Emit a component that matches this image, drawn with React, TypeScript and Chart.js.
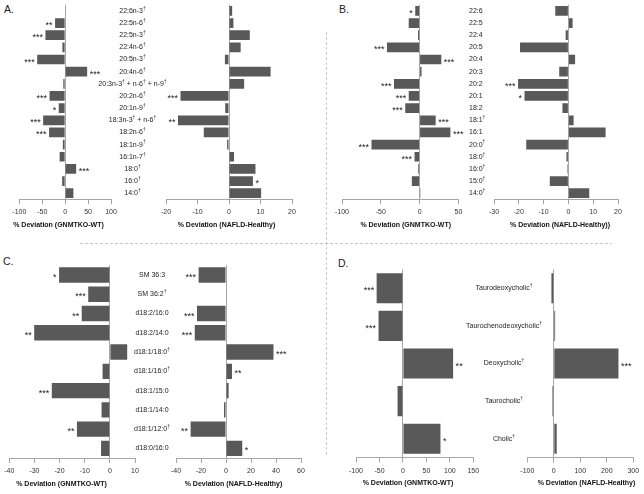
import { useEffect, useRef } from "react";
import { Chart, registerables } from "chart.js";
Chart.register(...registerables);

const FONT = '"Liberation Sans", Arial, sans-serif';
const W = 644;
const H = 494;
const BAR = "#595959";
const AXIS = "#a6a6a6";

// ---------- Panel A : fatty acids ----------
const catsA = ["22:6n-3†", "22:5n-6†", "22:5n-3†", "22:4n-6†", "20:5n-3†", "20:4n-6†", "20:3n-3† + n-6† + n-9†", "20:2n-6†", "20:1n-9†", "18:3n-3† + n-6†", "18:2n-6†", "18:1n-9†", "16:1n-7†", "18:0†", "16:0†", "14:0†"];
const valsA_KO = [0, -22, -43, -6, -61, 48, -4, -34, -14, -48, -35, -5, -12, 24, -6.5, 18];
const starsA_KO = ["", "**", "***", "", "***", "***", "", "***", "*", "***", "***", "", "", "***", "", ""];
const valsA_NAFLD = [1.0, 1.4, 6.6, 3.7, -1.3, 13.2, 4.8, -15.4, -1.2, -16.2, -8.0, -0.6, 1.6, 8.4, 7.6, 10.2];
const starsA_NAFLD = ["", "", "", "", "", "", "", "***", "", "**", "", "", "", "", "*", ""];

// ---------- Panel B ----------
const catsB = ["22:6", "22:5", "22:4", "20:5", "20:4", "20:3", "20:2", "20:1", "18:2", "18:1†", "16:1", "20:0†", "18:0†", "16:0†", "15:0†", "14:0†"];
const valsB_KO = [-5.6, -14, -2, -42, 28, 2.5, -33, -14, -18.5, 20.7, 39.7, -62, -6.5, -1.7, -10, 1];
const starsB_KO = ["*", "", "", "***", "***", "", "***", "***", "***", "***", "***", "***", "***", "", "", ""];
const valsB_NAFLD = [-5.3, 1.7, -1.1, -19.5, 2.7, -3.7, -20.3, -17.7, -2.4, 2.1, 15, -17, -0.8, -0.4, -7.5, 8.4];
const starsB_NAFLD = ["", "", "", "", "", "", "***", "*", "", "", "", "", "", "", "", ""];

// ---------- Panel C : sphingomyelins ----------
const catsC = ["SM 36:3", "SM 36:2†", "d18:2/16:0", "d18:2/14:0", "d18:1/18:0†", "d18:1/16:0†", "d18:1/15:0", "d18:1/14:0", "d18:1/12:0†", "d18:0/16:0"];
const valsC_KO = [-20.2, -8.6, -11.2, -30.1, 6.9, -2.9, -23.1, -3.3, -13.1, -3.5];
const starsC_KO = ["*", "***", "**", "**", "", "", "***", "", "**", ""];
const valsC_NAFLD = [-21.9, 0, -23.2, -25, 38, 4.8, 2.1, -1.6, -28.3, 13];
const starsC_NAFLD = ["***", "", "***", "***", "***", "**", "", "", "**", "*"];

// ---------- Panel D : bile acids ----------
const catsD = ["Taurodeoxycholic†", "Taurochenodeoxycholic†", "Deoxycholic†", "Taurocholic†", "Cholic†"];
const valsD_KO = [-56, -52, 107, -11.4, 80];
const starsD_KO = ["***", "***", "**", "", "*"];
const valsD_NAFLD = [-9, 5, 244, -5, 11];
const starsD_NAFLD = ["", "", "***", "", ""];

const titleKO = "% Deviation (GNMTKO-WT)";
const titleNAFLD = "% Deviation (NAFLD-Healthy)";
const titleNAFLD_B = "% Deviation (NAFLD-Healthy))";

type Spec = {
  labels: string[];
  values: number[];
  stars: string[];
  min: number;
  max: number;
  step: number;
  title: string;
  area: { left: number; right: number; top: number; bottom: number };
  titleX: number;
  cat?: { x: number; align: "center" | "left" };
};

const topRow = { top: 4.8, bottom: 199.3 };
const specs: Spec[] = [
  { labels: catsA, values: valsA_KO, stars: starsA_KO, min: -100, max: 100, step: 50, title: titleKO, area: { left: 19.3, right: 111, ...topRow }, titleX: 58.5, cat: { x: 132.5, align: "center" } },
  { labels: catsA, values: valsA_NAFLD, stars: starsA_NAFLD, min: -20, max: 20, step: 10, title: titleNAFLD, area: { left: 166, right: 292, ...topRow }, titleX: 226.5 },
  { labels: catsB, values: valsB_KO, stars: starsB_KO, min: -100, max: 50, step: 50, title: titleKO, area: { left: 342, right: 458.4, ...topRow }, titleX: 405.7, cat: { x: 469, align: "left" } },
  { labels: catsB, values: valsB_NAFLD, stars: starsB_NAFLD, min: -30, max: 20, step: 10, title: titleNAFLD_B, area: { left: 494, right: 618, ...topRow }, titleX: 560 },
  { labels: catsC, values: valsC_KO, stars: starsC_KO, min: -40, max: 10, step: 10, title: titleKO, area: { left: 9.3, right: 135, top: 265.4, bottom: 458 }, titleX: 61.5, cat: { x: 152, align: "center" } },
  { labels: catsC, values: valsC_NAFLD, stars: starsC_NAFLD, min: -40, max: 60, step: 20, title: titleNAFLD, area: { left: 176, right: 301, top: 265.4, bottom: 458 }, titleX: 233.5 },
  { labels: catsD, values: valsD_KO, stars: starsD_KO, min: -100, max: 150, step: 50, title: titleKO, area: { left: 356, right: 473.3, top: 269.5, bottom: 457.5 }, titleX: 408, cat: { x: 504, align: "center" } },
  { labels: catsD, values: valsD_NAFLD, stars: starsD_NAFLD, min: -100, max: 300, step: 100, title: titleNAFLD, area: { left: 527.3, right: 633.3, top: 269.5, bottom: 457.5 }, titleX: 586.5 },
];

const TICK_LEN = 5;
const TICK_PAD = 4;
const TICK_FONT = 7;
const AXIS_H = TICK_LEN + TICK_FONT * 1.2 + TICK_PAD * 2;

function drawDaggerText(ctx: CanvasRenderingContext2D, text: string, x: number, y: number, align: "center" | "left") {
  const parts = text.split("†");
  const mainFont = `7px ${FONT}`;
  const dagFont = `5px ${FONT}`;
  ctx.font = dagFont;
  const dw = ctx.measureText("†").width;
  ctx.font = mainFont;
  let total = 0;
  parts.forEach((p, i) => {
    total += ctx.measureText(p).width;
    if (i < parts.length - 1) total += dw;
  });
  let cx = align === "center" ? x - total / 2 : x;
  ctx.textAlign = "left";
  ctx.textBaseline = "middle";
  ctx.fillStyle = "#222";
  parts.forEach((p, i) => {
    ctx.font = mainFont;
    ctx.fillText(p, cx, y);
    cx += ctx.measureText(p).width;
    if (i < parts.length - 1) {
      ctx.font = dagFont;
      ctx.fillText("†", cx, y - 2.5);
      cx += dw;
    }
  });
}

function buildConfig(s: Spec): any {
  const plugin = {
    id: "annot",
    afterDatasetsDraw(chart: any) {
      const ctx = chart.ctx as CanvasRenderingContext2D;
      ctx.save();
      const meta = chart.getDatasetMeta(0);
      meta.data.forEach((bar: any, i: number) => {
        const st = s.stars[i];
        if (!st) return;
        ctx.font = `9px ${FONT}`;
        ctx.fillStyle = "#222";
        ctx.textBaseline = "alphabetic";
        if (s.values[i] < 0) {
          ctx.textAlign = "right";
          ctx.fillText(st, bar.x - 2.5, bar.y + 5);
        } else {
          ctx.textAlign = "left";
          ctx.fillText(st, bar.x + 2.5, bar.y + 5);
        }
      });
      // axis title
      ctx.font = `bold 7px ${FONT}`;
      ctx.fillStyle = "#111";
      ctx.textAlign = "center";
      ctx.textBaseline = "middle";
      ctx.fillText(s.title, s.titleX, chart.chartArea.bottom + 25.7);
      // category labels
      if (s.cat) {
        const yScale = chart.scales.y;
        s.labels.forEach((lab, i) => {
          drawDaggerText(ctx, lab, s.cat!.x, yScale.getPixelForValue(i), s.cat!.align);
        });
      }
      ctx.restore();
    },
  };
  return {
    type: "bar",
    data: {
      labels: s.labels,
      datasets: [
        {
          data: s.values,
          backgroundColor: BAR,
          borderWidth: 0,
          barPercentage: 0.8,
          categoryPercentage: 1,
        },
      ],
    },
    options: {
      indexAxis: "y",
      animation: false,
      responsive: false,
      devicePixelRatio: 1,
      layout: {
        padding: {
          left: s.area.left,
          right: W - s.area.right,
          top: s.area.top,
          bottom: H - s.area.bottom - AXIS_H,
        },
      },
      plugins: { legend: { display: false }, tooltip: { enabled: false } },
      scales: {
        y: { display: false, offset: true },
        x: {
          type: "linear",
          min: s.min,
          max: s.max,
          ticks: { stepSize: s.step, font: { size: TICK_FONT, family: FONT }, color: "#333", padding: TICK_PAD, maxRotation: 0, autoSkip: false },
          grid: {
            color: (c: any) => (c.tick && c.tick.value === 0 ? AXIS : "rgba(0,0,0,0)"),
            tickColor: AXIS,
            tickLength: TICK_LEN,
            drawTicks: true,
            lineWidth: 1,
          },
          border: { display: true, color: AXIS, width: 1 },
        },
      },
    },
    plugins: [plugin],
  };
}

export default function App() {
  const refs = useRef<(HTMLCanvasElement | null)[]>([]);
  useEffect(() => {
    const charts = specs.map((s, i) => new Chart(refs.current[i] as HTMLCanvasElement, buildConfig(s)));
    return () => charts.forEach((c) => c.destroy());
  }, []);
  return (
    <div style={{ position: "absolute", left: 0, top: 0, width: W, height: H, background: "#fff", overflow: "hidden" }}>
      <svg width={W} height={H} style={{ position: "absolute", left: 0, top: 0 }}>
        <line x1={80} y1={243.5} x2={612} y2={243.5} stroke="#c8c8c8" strokeWidth={1} strokeDasharray="3,2" />
        <line x1={326.5} y1={32} x2={326.5} y2={455} stroke="#c8c8c8" strokeWidth={1} strokeDasharray="3,2" />
        <text x={4} y={13.3} fontFamily={FONT} fontSize={10.5} fill="#222">A.</text>
        <text x={339} y={12.7} fontFamily={FONT} fontSize={10.5} fill="#222">B.</text>
        <text x={3} y={265} fontFamily={FONT} fontSize={10.5} fill="#222">C.</text>
        <text x={338} y={266.7} fontFamily={FONT} fontSize={10.5} fill="#222">D.</text>
      </svg>
      {specs.map((s, i) => (
        <canvas
          key={i}
          ref={(el) => {
            refs.current[i] = el;
          }}
          width={W}
          height={H}
          style={{ position: "absolute", left: 0, top: 0, width: W, height: H }}
        />
      ))}
    </div>
  );
}
